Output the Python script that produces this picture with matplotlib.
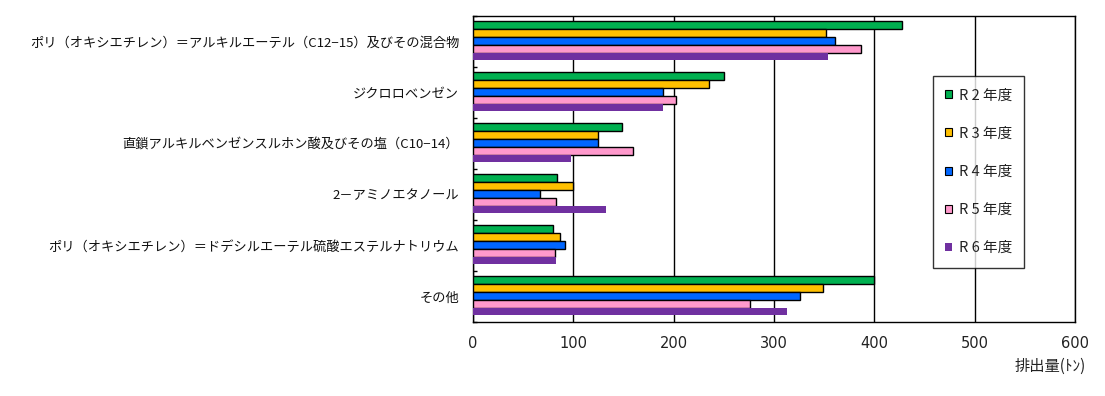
import numpy as np
import matplotlib
matplotlib.use("Agg")
import matplotlib.pyplot as plt
from matplotlib.patches import Patch

plt.rcParams['font.family'] = ['Noto Sans CJK JP', 'DejaVu Sans']

# 物質名（上から順）
categories = [
    "ポリ（オキシエチレン）＝アルキルエーテル（C12−15）及びその混合物",
    "ジクロロベンゼン",
    "直鎖アルキルベンゼンスルホン酸及びその塩（C10−14）",
    "2－アミノエタノール",
    "ポリ（オキシエチレン）＝ドデシルエーテル硫酸エステルナトリウム",
    "その他",
]
years = ["R 2 年度", "R 3 年度", "R 4 年度", "R 5 年度", "R 6 年度"]

# 排出量（トン）
r2 = [428, 250, 149, 84, 80, 400]
r3 = [352, 235, 125, 100, 87, 349]
r4 = [361, 189, 125, 67, 92, 326]
r5 = [387, 202, 159, 83, 82, 276]
r6 = [354, 189, 98, 133, 83, 313]

colors = ["#00B050", "#FFC000", "#0066FF", "#FF99CC", "#7030A0"]
edges = ["black", "black", "black", "black", "none"]

fig = plt.figure(figsize=(11.05, 3.96), dpi=100)
ax = fig.add_axes([473 / 1105, 1 - 322 / 396, 602 / 1105, 306 / 396])

n = len(categories)
bar_h = 0.153
y0 = np.arange(n)
series = [r2, r3, r4, r5, r6]
for i, vals in enumerate(series):
    offs = (i - 2) * bar_h - 0.01
    ax.barh(y0 + offs, vals, height=bar_h, color=colors[i],
            edgecolor=edges[i], linewidth=1.0, zorder=3)

ax.set_xlim(0, 600)
ax.set_ylim(n - 0.5, -0.5)
ax.set_xticks(range(0, 601, 100))
ax.xaxis.grid(True, color="black", linewidth=1.0, zorder=1)
ax.tick_params(axis="x", length=0, pad=10, colors="#222222")
for lab in ax.get_xticklabels():
    lab.set_fontfamily("DejaVu Sans")
    lab.set_fontsize(10.5)
ax.set_yticks(y0)
ax.set_yticklabels(categories, fontsize=9.5, color="#111111")
ax.tick_params(axis="y", length=0, pad=10)
ax.set_yticks(np.arange(n + 1) - 0.5, minor=True)
ax.tick_params(axis="y", which="minor", direction="in", length=3, width=1)
for s in ax.spines.values():
    s.set_color("black")
    s.set_linewidth(1.0)

handles = [Patch(facecolor=colors[i], edgecolor=edges[i], linewidth=0.8)
           for i in range(5)]
leg = fig.legend(handles, years, loc="upper left",
                 bbox_to_anchor=(933 / 1105, 1 - 76 / 396),
                 frameon=True, fancybox=False, fontsize=10.5,
                 handlelength=0.45, handleheight=0.45, handletextpad=0.45,
                 labelspacing=1.66, borderpad=0.85, borderaxespad=0)
leg.get_frame().set_edgecolor("black")
leg.get_frame().set_linewidth(1.0)
for t in leg.get_texts():
    t.set_color("#222222")

fig.text(1086 / 1105, 1 - 366 / 396, "排出量(ﾄﾝ)", ha="right", va="center",
         fontsize=11, color="#222222")

fig.savefig("out.png", dpi=100)
